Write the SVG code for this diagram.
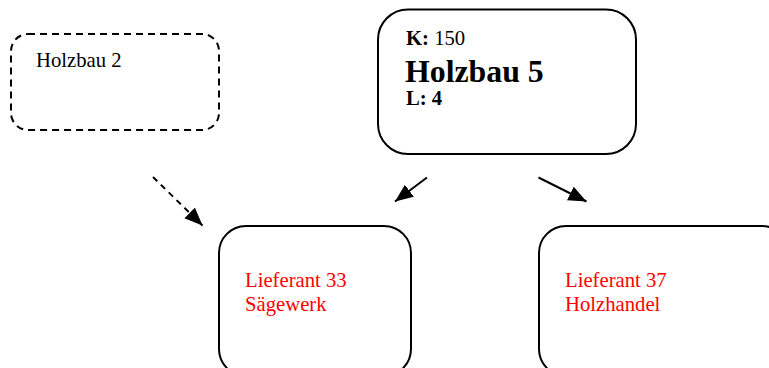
<svg xmlns="http://www.w3.org/2000/svg" width="769" height="368" viewBox="0 0 769 368">
<style>
.box{fill:#fff;stroke:#000;stroke-width:2}
.dash{stroke-dasharray:7,5}
.t{font-family:"Liberation Serif","Times New Roman",serif;font-size:20.7px;fill:#000}
.red{fill:#ff0000}
.b{font-weight:bold}
.conn{stroke:#000;stroke-width:2;fill:none}
</style>
<defs>
<marker id="ah" markerUnits="userSpaceOnUse" markerWidth="20" markerHeight="16" refX="18" refY="8" orient="auto">
<path d="M0,0.5 L18,8 L0,15.5 Z" fill="#000"/>
</marker>
</defs>
<rect width="769" height="368" fill="#fff"/>
<g id="holzbau2">
<rect class="box dash" x="11" y="34" width="208" height="96" rx="17" ry="17"/>
<text class="t" x="36" y="67">Holzbau 2</text>
</g>
<g id="holzbau5">
<rect class="box" x="378" y="9.5" width="258" height="144.5" rx="30" ry="30"/>
<text class="t" x="406" y="45"><tspan class="b">K:</tspan> 150</text>
<text class="t b" x="405" y="82" style="font-size:31.8px">Holzbau 5</text>
<text class="t b" x="406" y="105">L: 4</text>
</g>
<g id="lieferant33">
<rect class="box" x="219" y="226" width="192" height="150" rx="27" ry="27"/>
<text class="t red" x="245" y="287">Lieferant 33</text>
<text class="t red" x="245" y="311">Sägewerk</text>
</g>
<g id="lieferant37">
<rect class="box" x="539" y="226" width="250" height="150" rx="27" ry="27"/>
<text class="t red" x="565" y="287">Lieferant 37</text>
<text class="t red" x="565" y="311">Holzhandel</text>
</g>
<g id="connectors">
<line class="conn" x1="153" y1="177" x2="202.5" y2="225.5" marker-end="url(#ah)" style="stroke-dasharray:6,5"/>
<line class="conn" x1="427" y1="177.5" x2="395" y2="201.5" marker-end="url(#ah)"/>
<line class="conn" x1="538.5" y1="177.5" x2="586.5" y2="201.5" marker-end="url(#ah)"/>
</g>
</svg>
